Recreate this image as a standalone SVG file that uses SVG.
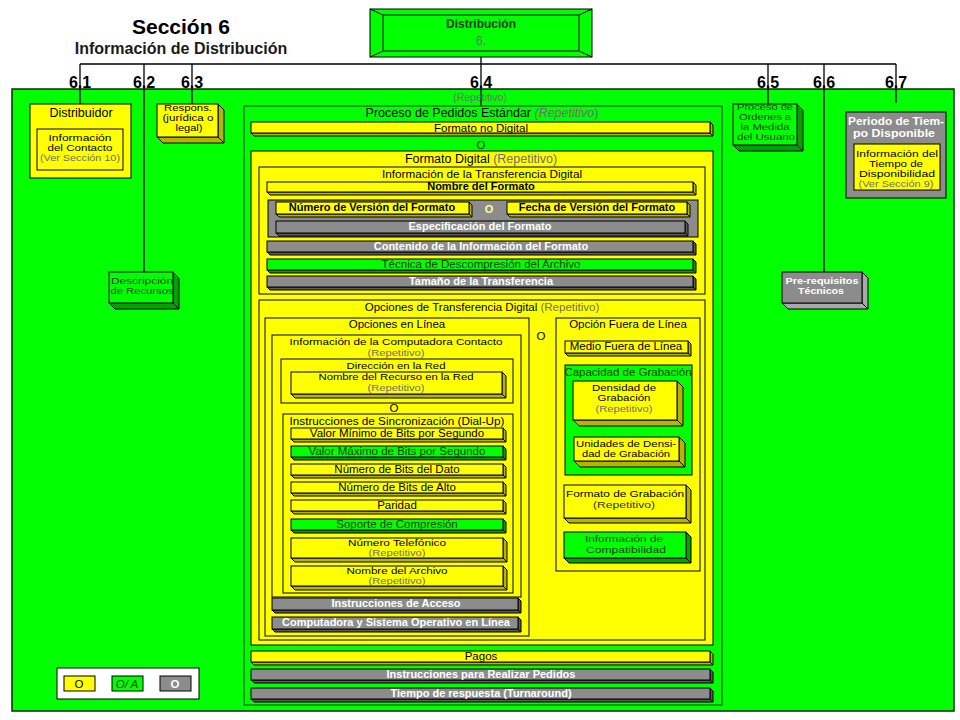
<svg xmlns="http://www.w3.org/2000/svg" width="960" height="720" viewBox="0 0 960 720">
<style>
.y{fill:#ffff00;stroke:#000;stroke-width:1}
.g{fill:#00ff00;stroke:#000;stroke-width:1}
.k{fill:#8c8c8c;stroke:#000;stroke-width:1}
.yd{fill:#b5b500;stroke:#000;stroke-width:1}
.gd{fill:#00a300;stroke:#000;stroke-width:1}
.kd{fill:#5c5c5c;stroke:#000;stroke-width:1}
.ln{stroke:#000;stroke-width:1.3;fill:none}
text{font-family:"Liberation Sans",Arial,sans-serif;text-anchor:middle;font-size:11.5px;fill:#000}
.b{font-weight:bold;font-size:11px}
.s{font-size:10.5px}
.m{font-size:8.8px}
.m2{font-size:9.6px}
.w{fill:#fff}
.gr{fill:#6e6e6e}
.dg{fill:#123a12}
.i{font-style:italic}
.num{font-size:16px;font-weight:bold}
</style>
<rect width="960" height="720" fill="#fff"/>
<g id="title">
<text x="181" y="34" style="font-size:21px;font-weight:bold">Sección 6</text>
<text x="181" y="54" style="font-size:16px;font-weight:bold;fill:#1a1a1a">Información de Distribución</text>
</g>
<g id="background">
<rect x="12" y="89" width="942" height="622" fill="#00ff00" stroke="#0a2a0a" stroke-width="1.5"/>
</g>
<g id="connectors">
<path class="ln" d="M481,57 V64 M80,64 H896 M80,64 V104 M144,64 V272 M192,64 V104 M481,64 V106 M768,64 V104 M824,64 V272 M896,64 V103"/>
</g>
<g id="labels">
<text x="80" y="88" class="num">6.1</text>
<text x="144" y="88" class="num">6.2</text>
<text x="192" y="88" class="num">6.3</text>
<text x="481" y="88" class="num">6.4</text>
<text x="768" y="88" class="num">6.5</text>
<text x="824" y="88" class="num">6.6</text>
<text x="896" y="88" class="num">6.7</text>
</g>
<g id="n-distribucion">
<rect class="g" x="370" y="9" width="222" height="48"/>
<rect class="g" x="383" y="15" width="196" height="36"/>
<path class="ln" style="stroke-width:1" d="M370,9 L383,15 M592,9 L579,15 M370,57 L383,51 M592,57 L579,51"/>
<text x="481" y="28" style="font-size:12px;font-weight:bold;fill:#1e3a1e">Distribución</text>
<text x="481" y="45" class="gr" style="font-size:12px">6.</text>
</g>
<g id="n-distribuidor">
<rect class="y" x="30" y="104" width="101" height="74"/>
<text x="81" y="117" style="font-size:12.5px">Distribuidor</text>
<rect class="y" x="37" y="129" width="86" height="41"/>
<text x="80" y="141" class="m" textLength="63" lengthAdjust="spacingAndGlyphs">Información</text>
<text x="80" y="151" class="m" textLength="65" lengthAdjust="spacingAndGlyphs">del Contacto</text>
<text x="80" y="161" class="gr m" textLength="80" lengthAdjust="spacingAndGlyphs">(Ver Sección 10)</text>
</g>
<g id="n-respons">
<path class="yd" d="M218,104 l6,6 v33 h-61 l-6,-6 h61 z m0,33 l6,6"/>
<rect class="y" x="157" y="104" width="61" height="33"/>
<text x="188" y="111" class="m" textLength="48" lengthAdjust="spacingAndGlyphs">Respons.</text>
<text x="188" y="121" class="m" textLength="51" lengthAdjust="spacingAndGlyphs">(jurídica o</text>
<text x="189" y="131" class="m" textLength="27" lengthAdjust="spacingAndGlyphs">legal)</text>
</g>
<g id="n-descripcion">
<path class="gd" d="M173,272 l6,6 v31 h-64 l-6,-6 h64 z m0,31 l6,6"/>
<rect class="g" x="109" y="272" width="64" height="31"/>
<text x="142" y="284" class="dg m" textLength="62" lengthAdjust="spacingAndGlyphs">Descripción</text>
<text x="142" y="294" class="dg m" textLength="63" lengthAdjust="spacingAndGlyphs">de Recursos</text>
</g>
<g id="n-ordenes">
<path class="gd" d="M797,104 l6,6 v41 h-64 l-6,-6 h64 z m0,41 l6,6"/>
<rect class="g" x="733" y="104" width="64" height="41"/>
<text x="765" y="110" class="dg m" textLength="56" lengthAdjust="spacingAndGlyphs">Proceso de</text>
<text x="765" y="120" class="dg m" textLength="52" lengthAdjust="spacingAndGlyphs">Ordenes a</text>
<text x="765" y="130" class="dg m" textLength="49" lengthAdjust="spacingAndGlyphs">la Medida</text>
<text x="766" y="140" class="dg m" textLength="58" lengthAdjust="spacingAndGlyphs">del Usuario</text>
</g>
<g id="n-prerequisitos">
<path class="kd" style="fill:#a8a8a8" d="M862,272 l6,6 v31 h-80 l-6,-6 h80 z m0,31 l6,6"/>
<rect class="k" x="782" y="272" width="80" height="31"/>
<text x="822" y="284" class="w m" style="font-weight:bold" textLength="73" lengthAdjust="spacingAndGlyphs">Pre-requisitos</text>
<text x="821" y="294" class="w m" style="font-weight:bold" textLength="46" lengthAdjust="spacingAndGlyphs">Técnicos</text>
</g>
<g id="n-periodo">
<rect class="k" x="846" y="112" width="100" height="86"/>
<text x="896" y="125" class="w" style="font-size:10.4px;font-weight:bold" textLength="96" lengthAdjust="spacingAndGlyphs">Periodo de Tiem-</text>
<text x="894" y="137" class="w" style="font-size:10.4px;font-weight:bold" textLength="82" lengthAdjust="spacingAndGlyphs">po Disponible</text>
<rect class="y" x="854" y="144" width="86" height="46"/>
<text x="897" y="157" class="m" textLength="82" lengthAdjust="spacingAndGlyphs">Información del</text>
<text x="896" y="167" class="m" textLength="54" lengthAdjust="spacingAndGlyphs">Tiempo de</text>
<text x="897" y="177" class="m" textLength="76" lengthAdjust="spacingAndGlyphs">Disponibilidad</text>
<text x="896" y="187" class="gr m" textLength="75" lengthAdjust="spacingAndGlyphs">(Ver Sección 9)</text>
</g>
<g id="n-proceso">
<text x="480" y="101" class="gr s">(Repetitivo)</text>
<rect x="244" y="106" width="478" height="599" fill="#00ff00" stroke="#1a3a1a" stroke-width="1"/>
<text x="482" y="117" style="font-size:12.5px">Proceso de Pedidos Estándar <tspan class="i gr">(Repetitivo</tspan><tspan class="gr">)</tspan></text>
<path class="yd" d="M710,122 l3,3 v11 h-459 l-3,-3 h459 z m0,11 l3,3"/>
<rect class="y" x="251" y="122" width="459" height="11"/>
<text x="481" y="132" style="font-size:11.5px">Formato no Digital</text>
<text x="481" y="149" class="dg">O</text>
</g>
<g id="n-formato-digital">
<rect class="y" x="251" y="151" width="462" height="494"/>
<text x="481" y="163" style="font-size:12.5px">Formato Digital <tspan class="gr">(Repetitivo)</tspan></text>
</g>
<g id="n-transferencia">
<rect class="y" x="259" y="167" width="446" height="127"/>
<text x="482" y="178" class="s" textLength="200" lengthAdjust="spacingAndGlyphs">Información de la Transferencia Digital</text>
<path class="yd" d="M693,182 l3,3 v10 h-426 l-3,-3 h426 z m0,10 l3,3"/>
<rect class="y" x="267" y="182" width="426" height="10"/>
<text x="481" y="190" class="b">Nombre del Formato</text>
<rect class="k" x="268" y="200" width="430" height="37"/>
<path class="yd" d="M469,202 l3,3 v12 h-193 l-3,-3 h193 z m0,12 l3,3"/>
<rect class="y" x="276" y="202" width="193" height="12"/>
<text x="372" y="211" class="b">Número de Versión del Formato</text>
<text x="489" y="213" class="b" style="fill:#ffffa0">O</text>
<path class="yd" d="M687,202 l3,3 v12 h-180 l-3,-3 h180 z m0,12 l3,3"/>
<rect class="y" x="507" y="202" width="180" height="12"/>
<text x="597" y="211" class="b">Fecha de Versión del Formato</text>
<path class="kd" d="M685,221 l3,3 v12 h-409 l-3,-3 h409 z m0,12 l3,3"/>
<rect class="k" x="276" y="221" width="409" height="12"/>
<text x="480" y="230" class="b w">Especificación del Formato</text>
<path class="kd" d="M693,241 l3,3 v11 h-426 l-3,-3 h426 z m0,11 l3,3"/>
<rect class="k" x="267" y="241" width="426" height="11"/>
<text x="481" y="250" class="b w">Contenido de la Información del Formato</text>
<path class="gd" d="M693,259 l3,3 v11 h-426 l-3,-3 h426 z m0,11 l3,3"/>
<rect class="g" x="267" y="259" width="426" height="11"/>
<text x="481" y="268" class="dg">Técnica de Descompresión del Archivo</text>
<path class="kd" d="M693,276 l3,3 v11 h-426 l-3,-3 h426 z m0,11 l3,3"/>
<rect class="k" x="267" y="276" width="426" height="11"/>
<text x="481" y="285" class="b w">Tamaño de la Transferencia</text>
</g>
<g id="n-opciones-transferencia">
<rect class="y" x="259" y="300" width="446" height="340"/>
<text x="482" y="311">Opciones de Transferencia Digital <tspan class="gr">(Repetitivo)</tspan></text>
<text x="541" y="340">O</text>
</g>
<g id="n-opciones-linea">
<rect class="y" x="265" y="318" width="264" height="318"/>
<text x="397" y="328">Opciones en Línea</text>
</g>
<g id="n-computadora">
<rect class="y" x="272" y="335" width="249" height="262"/>
<text x="396" y="345" class="m2" textLength="213" lengthAdjust="spacingAndGlyphs">Información de la Computadora Contacto</text>
<text x="396" y="356" class="gr m2" textLength="57" lengthAdjust="spacingAndGlyphs">(Repetitivo)</text>
</g>
<g id="n-direccion">
<rect class="y" x="281" y="359" width="232" height="44"/>
<text x="396" y="369" class="m2" textLength="99" lengthAdjust="spacingAndGlyphs">Dirección en la Red</text>
<path class="yd" d="M502,372 l4,4 v22 h-211 l-4,-4 h211 z m0,22 l4,4"/>
<rect class="y" x="291" y="372" width="211" height="22"/>
<text x="396" y="380" class="m2" textLength="155" lengthAdjust="spacingAndGlyphs">Nombre del Recurso en la Red</text>
<text x="396" y="391" class="gr m" textLength="57" lengthAdjust="spacingAndGlyphs">(Repetitivo)</text>
<text x="394" y="412">O</text>
</g>
<g id="n-sincronizacion">
<rect class="y" x="283" y="414" width="230" height="179"/>
<text x="397" y="425" class="s" textLength="215" lengthAdjust="spacingAndGlyphs">Instrucciones de Sincronización (Dial-Up)</text>
<path class="yd" d="M503,428 l3,3 v11 h-212 l-3,-3 h212 z m0,11 l3,3"/>
<rect class="y" x="291" y="428" width="212" height="11"/>
<text x="397" y="437">Valor Mínimo de Bits por Segundo</text>
<path class="gd" d="M503,446 l3,3 v11 h-212 l-3,-3 h212 z m0,11 l3,3"/>
<rect class="g" x="291" y="446" width="212" height="11"/>
<text x="397" y="455" class="dg">Valor Máximo de Bits por Segundo</text>
<path class="yd" d="M503,464 l3,3 v11 h-212 l-3,-3 h212 z m0,11 l3,3"/>
<rect class="y" x="291" y="464" width="212" height="11"/>
<text x="397" y="473">Número de Bits del Dato</text>
<path class="yd" d="M503,482 l3,3 v11 h-212 l-3,-3 h212 z m0,11 l3,3"/>
<rect class="y" x="291" y="482" width="212" height="11"/>
<text x="397" y="491">Número de Bits de Alto</text>
<path class="yd" d="M503,500 l3,3 v11 h-212 l-3,-3 h212 z m0,11 l3,3"/>
<rect class="y" x="291" y="500" width="212" height="11"/>
<text x="397" y="509">Paridad</text>
<path class="gd" d="M503,519 l3,3 v11 h-212 l-3,-3 h212 z m0,11 l3,3"/>
<rect class="g" x="291" y="519" width="212" height="11"/>
<text x="397" y="528" class="dg">Soporte de Compresión</text>
<path class="yd" d="M503,538 l4,4 v20 h-212 l-4,-4 h212 z m0,20 l4,4"/>
<rect class="y" x="291" y="538" width="212" height="20"/>
<text x="397" y="546" class="m" textLength="98" lengthAdjust="spacingAndGlyphs">Número Telefónico</text>
<text x="397" y="556" class="gr m" textLength="57" lengthAdjust="spacingAndGlyphs">(Repetitivo)</text>
<path class="yd" d="M503,566 l4,4 v20 h-212 l-4,-4 h212 z m0,20 l4,4"/>
<rect class="y" x="291" y="566" width="212" height="20"/>
<text x="397" y="574" class="m" textLength="101" lengthAdjust="spacingAndGlyphs">Nombre del Archivo</text>
<text x="397" y="584" class="gr m" textLength="57" lengthAdjust="spacingAndGlyphs">(Repetitivo)</text>
</g>
<g id="n-acceso">
<path class="kd" d="M518,598 l3,3 v12 h-246 l-3,-3 h246 z m0,12 l3,3"/>
<rect class="k" x="272" y="598" width="246" height="12"/>
<text x="396" y="607" class="b w">Instrucciones de Acceso</text>
</g>
<g id="n-computadora-so">
<path class="kd" d="M518,617 l3,3 v12 h-246 l-3,-3 h246 z m0,12 l3,3"/>
<rect class="k" x="272" y="617" width="246" height="12"/>
<text x="396" y="626" class="b w">Computadora y Sistema Operativo en Línea</text>
</g>
<g id="n-fuera-linea">
<rect class="y" x="556" y="318" width="144" height="253"/>
<text x="628" y="328">Opción Fuera de Línea</text>
<path class="yd" d="M688,341 l3,3 v12 h-123 l-3,-3 h123 z m0,12 l3,3"/>
<rect class="y" x="565" y="341" width="123" height="12"/>
<text x="626" y="350">Medio Fuera de Línea</text>
</g>
<g id="n-capacidad">
<rect class="g" x="565" y="365" width="127" height="110"/>
<text x="628" y="376" class="dg">Capacidad de Grabación</text>
<path class="yd" d="M677,381 l6,6 v39 h-104 l-6,-6 h104 z m0,39 l6,6"/>
<rect class="y" x="573" y="381" width="104" height="39"/>
<text x="624" y="391" class="m" textLength="64" lengthAdjust="spacingAndGlyphs">Densidad de</text>
<text x="624" y="401" class="m" textLength="53" lengthAdjust="spacingAndGlyphs">Grabación</text>
<text x="624" y="412" class="gr m" textLength="57" lengthAdjust="spacingAndGlyphs">(Repetitivo)</text>
<path class="yd" d="M679,437 l6,6 v24 h-105 l-6,-6 h105 z m0,24 l6,6"/>
<rect class="y" x="574" y="437" width="105" height="24"/>
<text x="626" y="447" class="m" textLength="100" lengthAdjust="spacingAndGlyphs">Unidades de Densi-</text>
<text x="626" y="457" class="m" textLength="88" lengthAdjust="spacingAndGlyphs">dad de Grabación</text>
</g>
<g id="n-formato-grabacion">
<path class="yd" d="M686,485 l5,5 v33 h-122 l-5,-5 h122 z m0,33 l5,5"/>
<rect class="y" x="564" y="485" width="122" height="33"/>
<text x="625" y="497" class="m2" textLength="118" lengthAdjust="spacingAndGlyphs">Formato de  Grabación</text>
<text x="624" y="508" class="m2" style="fill:#333" textLength="62" lengthAdjust="spacingAndGlyphs">(Repetitivo)</text>
</g>
<g id="n-compatibilidad">
<path class="gd" d="M686,532 l5,5 v26 h-122 l-5,-5 h122 z m0,26 l5,5"/>
<rect class="g" x="564" y="532" width="122" height="26"/>
<text x="624" y="542" class="dg m2" textLength="78" lengthAdjust="spacingAndGlyphs">Información de</text>
<text x="626" y="553" class="dg m2" textLength="80" lengthAdjust="spacingAndGlyphs">Compatibilidad</text>
</g>
<g id="n-pagos">
<path class="yd" d="M710,651 l3,3 v11 h-459 l-3,-3 h459 z m0,11 l3,3"/>
<rect class="y" x="251" y="651" width="459" height="11"/>
<text x="481" y="660">Pagos</text>
</g>
<g id="n-instrucciones-pedidos">
<path class="kd" d="M710,669 l3,3 v11 h-459 l-3,-3 h459 z m0,11 l3,3"/>
<rect class="k" x="251" y="669" width="459" height="11"/>
<text x="481" y="678" class="b w">Instrucciones para Realizar Pedidos</text>
</g>
<g id="n-tiempo">
<path class="kd" d="M710,688 l3,3 v11 h-459 l-3,-3 h459 z m0,11 l3,3"/>
<rect class="k" x="251" y="688" width="459" height="11"/>
<text x="481" y="697" class="b w">Tiempo de respuesta (Turnaround)</text>
</g>
<g id="legend">
<rect x="57" y="668" width="142" height="31" fill="#fff" stroke="#000"/>
<rect class="y" x="64" y="676" width="31" height="15"/>
<text x="79" y="688">O</text>
<rect class="g" x="112" y="676" width="31" height="15"/>
<text x="127" y="688" class="dg i">O/ A</text>
<rect class="k" x="160" y="676" width="31" height="15"/>
<text x="175" y="688" class="w" style="font-weight:bold">O</text>
</g>
</svg>
